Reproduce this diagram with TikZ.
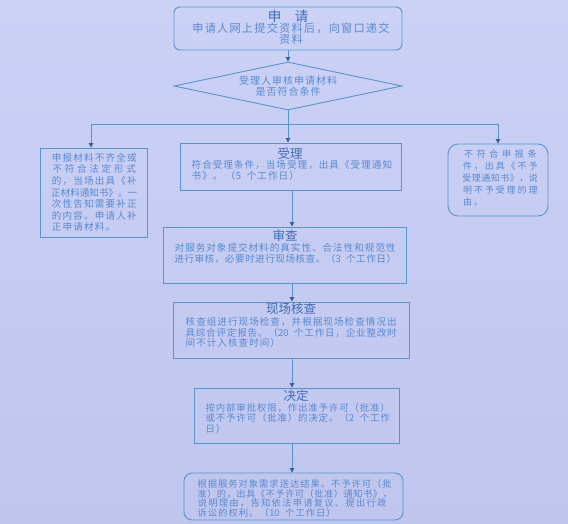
\documentclass[tikz,border=0pt]{standalone}
\usepackage{fontspec}
\usetikzlibrary{shapes.geometric,arrows.meta}
\newfontfamily\cjk{Noto Sans CJK SC}
\newfontfamily\cjkt{Noto Sans CJK SC}
% fixed-pitch line: each character gets a box of width \pitch (digits/space: half)
\newdimen\pitch
\let\clend\relax
\def\cl#1#2{\hbox{\pitch=#1\relax\clloop#2\clend}}
\def\clloop#1{\ifx#1\clend\else\clchar{#1}\expandafter\clloop\fi}
\def\clchar#1{\ifnum`#1<256 \hbox to 0.5\pitch{\hss#1\hss}\else\hbox to \pitch{\hss#1\hss}\fi}
\definecolor{bgtop}{RGB}{204,209,246}
\definecolor{bgbot}{RGB}{192,197,238}
\definecolor{ln}{RGB}{88,148,204}
\definecolor{tipc}{RGB}{60,95,150}
\definecolor{tx}{RGB}{88,138,208}
\definecolor{tt}{RGB}{62,108,185}
\begin{document}
\begin{tikzpicture}[x=1pt,y=-1pt,
  box/.style={draw=ln, line width=0.9pt, inner sep=0pt},
  arr/.style={draw=ln, line width=0.9pt, -{Triangle[length=4.5pt,width=4.5pt,color=tipc]}},
  ln/.style={draw=ln, line width=0.9pt},
  body/.style={text=tx, inner sep=0pt, align=left, font=\cjk\fontsize{9.6}{10.5}\selectfont},
  ttl/.style={text=tt, inner sep=0pt, font=\cjkt\fontsize{12.5}{13}\selectfont}]
\useasboundingbox (0,0) rectangle (568,523);
\shade[top color=bgtop, bottom color=bgbot] (0,0) rectangle (568,523);

% boxes
\node[box, rounded corners=6pt, minimum width=228pt, minimum height=43pt] (apply) at (288,28.5) {};
\node[box, diamond, minimum width=228pt, minimum height=48pt] (dia) at (288,86) {};
\node[box, minimum width=107pt, minimum height=89pt] (left) at (93.5,192.5) {};
\node[box, minimum width=221pt, minimum height=47pt] (shouli) at (290.5,166.5) {};
\node[box, rounded corners=10pt, minimum width=100pt, minimum height=72pt] (right) at (498,180) {};
\node[box, minimum width=243pt, minimum height=56pt] (shencha) at (284.5,255) {};
\node[box, minimum width=236pt, minimum height=56pt] (xcjc) at (291,330) {};
\node[box, minimum width=205pt, minimum height=55pt] (jd) at (296.5,415.5) {};
\node[box, rounded corners=8pt, minimum width=219pt, minimum height=47pt] (fin) at (293.5,496.5) {};

% texts
\node[ttl, font=\cjkt\fontsize{13.5}{14}\selectfont] (t1) at (288,16) {申\hspace{1em}请};
\node[body, align=center, font=\cjk\fontsize{11.2}{11}\selectfont] (b1) at (291,34) {\cl{12.4pt}{申请人网上提交资料后，向窗口递交}\\\cl{12.4pt}{资料}};
\node[body, align=center, font=\cjk\fontsize{10}{11}\selectfont] (bd) at (288,86) {\cl{11pt}{受理人审核申请材料}\\\cl{11pt}{是否符合条件}};
\node[body, anchor=north west, font=\cjk\fontsize{9.6}{11.6}\selectfont] (bl) at (51,153) {\cl{10.75pt}{申报材料不齐全或}\\\cl{12.3pt}{不符合法定形式}\\\cl{10.75pt}{的，当场出具《补}\\\cl{9.55pt}{正材料通知书》。一}\\\cl{10.75pt}{次性告知需要补正}\\\cl{10.75pt}{的内容。申请人补}\\\cl{10.75pt}{正申请材料。}};
\node[body, anchor=north west, font=\cjk\fontsize{9}{12}\selectfont] (br) at (462,150) {\cl{12.7pt}{不符合申报条}\\\cl{10.9pt}{件，出具《不予}\\\cl{9.5pt}{受理通知书》，说}\\\cl{10.9pt}{明不予受理的理}\\\cl{10.9pt}{由。}};
\node[ttl] (t2) at (290,154) {受理};
\node[body, anchor=north west] (b2) at (191,160.5) {\cl{10.6pt}{符合受理条件，当场受理，出具《受理通知}\\\hbox to 34pt{\cl{10.6pt}{书》。}\hss}\cl{10.6pt}{（5\ 个工作日）}};
\node[ttl] (t3) at (285,236) {审查};
\node[body, anchor=north west] (b3) at (174,243.5) {\cl{10.57pt}{对服务对象提交材料的真实性、合法性和规范性}\\\cl{10.1pt}{进行审核，必要时进行现场核查。（3\ 个工作日）}};
\node[ttl] (t4) at (291,309) {现场核查};
\node[body, anchor=north west] (b4) at (185,317.5) {\cl{10.6pt}{核查组进行现场检查，并根据现场检查情况出}\\\cl{10.34pt}{具综合评定报告。（20\ 个工作日，企业整改时}\\\cl{10.6pt}{间不计入核查时间）}};
\node[ttl] (t5) at (296,396) {决定};
\node[body, anchor=north west, font=\cjk\fontsize{9.4}{10.2}\selectfont] (b5) at (205,403.5) {\cl{10.28pt}{按内部审批权限，作出准予许可（批准）}\\\cl{10.28pt}{或不予许可（批准）的决定。（2\ 个工作}\\\cl{10.28pt}{日）}};
\node[body, anchor=north west, font=\cjk\fontsize{9.3}{9.5}\selectfont] (b6) at (197,479.5) {\cl{10.26pt}{根据服务对象需求送达结果。不予许可（批}\\\cl{9.75pt}{准）的，出具《不予许可（批准）通知书》，}\\\cl{10.55pt}{说明理由，告知依法申请复议、提出行政}\\\cl{10.3pt}{诉讼的权利。（10\ 个工作日）}};

% connectors
\coordinate (branch) at (288,124);
\coordinate (spine) at (292,0);
\draw[arr] (apply.south) -- (dia.north);
\draw[ln] (dia.south) -- (branch);
\draw[arr] (branch) -| ([xshift=-2.5pt]left.north);
\draw[arr] (branch) -| (right.north);
\draw[arr] (branch) -- (branch |- shouli.north);
\draw[arr] (shouli.south -| spine) -- (shencha.north -| spine);
\draw[arr] (shencha.south -| spine) -- (xcjc.north -| spine);
\draw[arr] (xcjc.south -| spine) -- (jd.north -| spine);
\draw[arr] (jd.south -| spine) -- (fin.north -| spine);
\end{tikzpicture}
\end{document}
